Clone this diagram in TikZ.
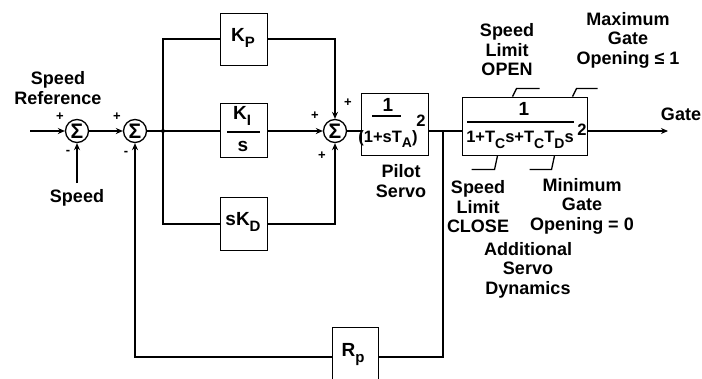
\documentclass[tikz,border=0pt]{standalone}
\usepackage{fontspec}
\setmainfont{Liberation Sans}
\usetikzlibrary{arrows.meta}
\newcommand\sbx[1]{\raisebox{-0.6ex}{\fontsize{15}{15}\selectfont #1}}
\newcommand\sbd[1]{\raisebox{-0.6ex}{\fontsize{14}{14}\selectfont #1}}
\begin{document}
\begin{tikzpicture}[x=1pt,y=-1pt,
  blk/.style={draw, line width=0.9pt, inner sep=0pt},
  sumn/.style={circle, draw, line width=1.3pt, minimum size=23pt, inner sep=0pt, font=\bfseries\fontsize{21}{21}\selectfont},
  sig/.style={line width=2pt},
  fb/.style={line width=1.6pt},
  hk/.style={line width=1.3pt},
  arr/.style={-{Stealth[length=7pt,width=6pt]}},
  lbl/.style={align=center, inner sep=0pt, font=\bfseries\fontsize{18}{19.5}\selectfont},
  txt/.style={inner sep=0pt, font=\bfseries\fontsize{19}{19}\selectfont},
  den/.style={inner sep=0pt, font=\bfseries\fontsize{16.5}{16.5}\selectfont},
  sgn/.style={inner sep=0pt, font=\bfseries\fontsize{13}{13}\selectfont}]
\useasboundingbox (0,0) rectangle (702,378);
\fill[white] (0,0) rectangle (702,378);

% summing junctions
\node[sumn] (s1) at (77,131) {Σ};
\node[sumn] (s2) at (135,131) {Σ};
\node[sumn] (s3) at (335,131) {Σ};

% blocks
\node[blk, minimum width=47pt, minimum height=52pt] (kp) at (243.5,39) {};
\node[blk, minimum width=47pt, minimum height=54pt] (ki) at (243.5,130) {};
\node[blk, minimum width=47pt, minimum height=53pt] (kd) at (243.5,223.5) {};
\node[blk, minimum width=67pt, minimum height=62pt] (ps) at (394.5,124) {};
\node[blk, minimum width=125pt, minimum height=58pt] (b2) at (524.5,126) {};
\node[blk, minimum width=46pt, minimum height=60pt] (rp) at (355,357) {};

% block contents
\node[txt] (kpt) at (243,38) {K\sbx{P}};
\node[txt] (kit) at (242,116) {K\sbx{I}};
\draw[line width=1.5pt] (227,132) -- (260,132);
\node[txt] (kis) at (243,146) {s};
\node[txt] (kdt) at (243,222) {sK\sbx{D}};
\node[txt] (pst) at (388,105) {1};
\draw[line width=1.5pt] (372,116) -- (401,116);
\node[den] (psd) at (388,139) {(1+sT\sbd{A})};
\node[den] (ps2) at (421,121) {2};
\node[txt] (b2t) at (524,109) {1};
\draw[line width=1.5pt] (467,122) -- (574,122);
\node[den] (b2d) at (520,140) {1+T\sbd{C}s+T\sbd{C}T\sbd{D}s};
\node[den] (b22) at (582,130) {2};
\node[txt] (rpt) at (353,355) {R\sbx{p}};

% limit hooks
\draw[hk] ([xshift=51pt]b2.north west) -- ++(4,-8) -- ++(23,0);
\draw[hk] ([xshift=111pt]b2.north west) -- ++(4,-8) -- ++(21,0);
\draw[hk] ([xshift=36pt]b2.south west) -- ++(-3,14) -- ++(-23,0);
\draw[hk] ([xshift=93pt]b2.south west) -- ++(-3,14) -- ++(-22,0);

% coordinates
\coordinate (in) at (30,131);
\coordinate (spd) at (77,183);
\coordinate (br) at (163,131);
\coordinate (fbp) at (443,131);
\coordinate (out) at (668,131);

% signal lines
\draw[sig,arr] (in) -- (s1);
\draw[sig,arr] (spd) -- (s1);
\draw[sig,arr] (s1) -- (s2);
\draw[sig] (s2) -- (s2 -| ki.west);
\fill (br) circle (2pt);
\draw[sig] (br) |- (kp.west);
\draw[sig] (br) |- (kd.west);
\draw[sig,arr] (kp.east) -| (s3.north);
\draw[sig,arr] (kd.east) -| (s3.south);
\draw[sig,arr] (s3 -| ki.east) -- (s3.west);
\draw[sig] (s3) -- (s3 -| ps.west);
\draw[sig] (s3 -| ps.east) -- (s3 -| b2.west);
\draw[sig,arr] (s3 -| b2.east) -- (out);
\draw[fb] (fbp) |- (rp.east);
\draw[fb,arr] (rp.west) -| (s2.south);

% signs
\node[sgn] (p1) at (60,117) {+};
\node[sgn] (m1) at (68,152) {-};
\node[sgn] (p2) at (117,117) {+};
\node[sgn] (m2) at (126,153) {-};
\node[sgn] (p3) at (348,103) {+};
\node[sgn] (p4) at (315,116) {+};
\node[sgn] (p5) at (322,156) {+};

% labels
\node[lbl] (lref) at (58,88) {Speed\\Reference};
\node[lbl] (lspd) at (77,198) {Speed};
\node[lbl] (lgate) at (681,114) {Gate};
\node[lbl] (lpil) at (401,181) {Pilot\\Servo};
\node[lbl] (lopen) at (507,50) {Speed\\Limit\\OPEN};
\node[lbl] (lmax) at (628,40) {Maximum\\Gate\\Opening ≤ 1};
\node[lbl] (lclose) at (478,207) {Speed\\Limit\\CLOSE};
\node[lbl] (lmin) at (582,206) {Minimum\\Gate\\Opening = 0};
\node[lbl] (ladd) at (528,270) {Additional\\Servo\\Dynamics};
\end{tikzpicture}
\end{document}
